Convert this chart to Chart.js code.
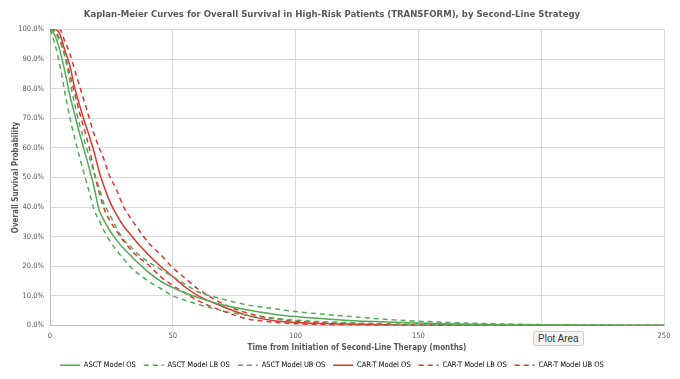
<!DOCTYPE html>
<html>
<head>
<meta charset="utf-8">
<script src="https://cdn.jsdelivr.net/npm/chart.js@4"></script>
<style>
  html, body { margin: 0; padding: 0; background: #fff; }
  #wrap { position: relative; width: 680px; height: 379px; }
  #tip {
    position: absolute; left: 533px; top: 331px; padding: 1px 4px;
    background: #f4f4f4; border: 1px solid #cfcfcf; border-radius: 2px;
    font: 10px 'Liberation Sans', sans-serif; color: #333;
  }
</style>
</head>
<body>
<div id="wrap">
  <canvas id="kmChart" width="680" height="379"></canvas>
  <div id="tip">Plot Area</div>
</div>
<script>
// months since start of second-line therapy
const months = [0, 2, 4, 6, 8, 10, 12, 14, 16, 18, 20, 22, 24, 27, 30, 33, 36, 40, 45, 50, 55, 60, 70, 80, 90, 100, 120, 140, 160, 180, 200, 225, 250];

// survival, %
const asctOS = [100, 98, 93, 86, 78, 71.5, 65, 59, 53, 46.5, 39, 35.5, 32.5, 29, 26, 23.5, 21, 18, 15, 12.8, 11, 9.5, 7, 5.3, 4, 3, 1.8, 1.1, 0.6, 0.35, 0.2, 0.1, 0.05];
const asctLB = [100, 95, 88, 79, 70.5, 63.5, 57, 51, 45, 39, 35.5, 32, 29, 25.5, 22.5, 19.5, 17.5, 15, 12.5, 10, 8.5, 7.2, 5, 3.5, 2.5, 1.8, 1, 0.55, 0.3, 0.15, 0.08, 0.03, 0.01];
const asctUB = [100, 99, 96, 91, 83, 75, 68, 62.5, 57, 51.5, 46.5, 41, 38, 33, 29, 26.5, 24, 21.5, 19, 16.5, 14, 11.5, 9, 7, 5.8, 4.7, 3.2, 1.9, 1.1, 0.6, 0.3, 0.15, 0.05];
const cartOS = [100, 100, 98.5, 93, 88, 80.5, 74.5, 69, 64, 58.5, 52, 47, 42.5, 37.5, 33.5, 30.5, 27.5, 24, 20, 16.5, 13, 10.2, 6.5, 3.5, 1.8, 1, 0.5, 0.2, 0.08, 0.03, 0.01, 0, 0];
const cartLB = [100, 99.5, 96.5, 91.5, 85, 78.5, 72, 66, 60, 51.5, 45, 39.5, 36, 32, 28.5, 25.5, 23, 20.5, 16.5, 13.5, 11, 8.5, 5, 2.3, 1.2, 0.6, 0.2, 0.08, 0.03, 0.01, 0, 0, 0];
const cartUB = [100, 100, 100, 96, 92, 86.5, 81, 75.5, 70, 64.5, 60, 56, 51, 46, 40, 36, 32.5, 28, 24, 19.5, 16, 12.5, 7.5, 4.3, 2.5, 1.5, 0.6, 0.25, 0.1, 0.04, 0.01, 0, 0];

const GREEN = "#55a957";
const RED = "#d6392f";
const GREY_TXT = "#595959";
const FONT = "'DejaVu Sans Condensed', 'Liberation Sans', sans-serif";

function pts(arr) {
  return months.map((m, i) => ({ x: m, y: arr[i] }));
}

function series(label, arr, color, dashed) {
  return {
    label: label,
    data: pts(arr),
    borderColor: color,
    backgroundColor: color,
    borderWidth: 1.5,
    borderDash: dashed ? [5, 4] : [],
    pointRadius: 0,
    cubicInterpolationMode: "monotone",
    fill: false
  };
}

new Chart(document.getElementById("kmChart"), {
  type: "line",
  data: {
    datasets: [
      series("ASCT Model OS", asctOS, GREEN, false),
      series("ASCT Model LB OS", asctLB, GREEN, true),
      series("ASCT Model UB OS", asctUB, GREEN, true),
      series("CAR-T Model OS", cartOS, RED, false),
      series("CAR-T Model LB OS", cartLB, RED, true),
      series("CAR-T Model UB OS", cartUB, RED, true)
    ]
  },
  options: {
    responsive: false,
    animation: false,
    layout: { padding: { left: 0, right: 16, top: 0, bottom: 0 } },
    plugins: {
      tooltip: { enabled: false },
      title: {
        display: true,
        text: "Kaplan-Meier Curves for Overall Survival in High-Risk Patients (TRANSFORM), by Second-Line Strategy",
        color: GREY_TXT,
        font: { family: FONT, size: 9.5, weight: "bold" },
        padding: { top: 9, bottom: 9 }
      },
      legend: {
        position: "bottom",
        labels: {
          color: GREY_TXT,
          font: { family: FONT, size: 7.5 },
          usePointStyle: true,
          pointStyle: "line",
          pointStyleWidth: 20,
          padding: 8,
          generateLabels(chart) {
            return chart.data.datasets.map((ds, i) => ({
              text: ds.label,
              fillStyle: ds.borderColor,
              strokeStyle: ds.borderColor,
              lineWidth: 1.5,
              lineDash: ds.borderDash,
              pointStyle: "line",
              datasetIndex: i,
              hidden: false
            }));
          }
        }
      }
    },
    scales: {
      x: {
        type: "linear",
        min: 0,
        max: 250,
        afterFit(scale) { scale.height = 28; },
        ticks: { stepSize: 50, color: GREY_TXT, font: { family: FONT, size: 7.5 }, padding: 6, maxRotation: 0 },
        grid: { color: "#d9d9d9", drawTicks: false },
        border: { color: "#bfbfbf" },
        title: {
          display: true,
          text: "Time from Initiation of Second-Line Therapy (months)",
          color: GREY_TXT,
          font: { family: FONT, size: 8, weight: "bold" },
          padding: { top: 0, bottom: 1 }
        }
      },
      y: {
        min: 0,
        max: 100,
        afterFit(scale) { scale.width = 50; },
        ticks: {
          stepSize: 10,
          color: GREY_TXT,
          font: { family: FONT, size: 7.5 },
          padding: 6,
          callback: v => v.toFixed(1) + "%"
        },
        grid: { color: "#d9d9d9", drawTicks: false },
        border: { color: "#bfbfbf" },
        title: {
          display: true,
          text: "Overall Survival Probability",
          color: GREY_TXT,
          font: { family: FONT, size: 8, weight: "bold" },
          padding: { top: 11, bottom: 0 }
        }
      }
    }
  }
});
</script>
</body>
</html>
